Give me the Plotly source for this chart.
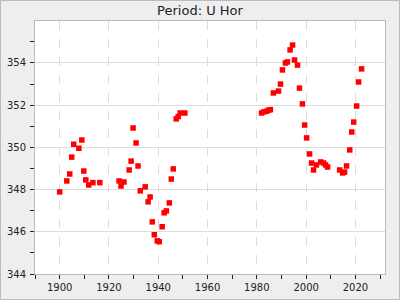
import plotly.graph_objects as go

years = [1900.0, 1902.9, 1904.1, 1904.9, 1905.7, 1907.8, 1909.0, 1909.8, 1910.6, 1911.8,
         1913.5, 1916.3, 1924.1, 1924.9, 1926.1, 1928.2, 1929.0, 1929.8, 1931.0, 1931.8,
         1932.7, 1934.7, 1935.9, 1936.7, 1937.6, 1938.4, 1939.6, 1940.4, 1941.6, 1942.4,
         1943.3, 1944.5, 1945.3, 1946.1, 1947.3, 1948.1, 1948.9, 1950.8,
         1981.9, 1982.8, 1983.9, 1984.7, 1985.5, 1986.7, 1988.8, 1989.6, 1990.4, 1991.6,
         1992.4, 1993.5, 1994.5, 1995.3, 1996.5, 1997.3, 1998.5, 1999.4, 2000.2, 2001.4,
         2002.2, 2003.0, 2004.2, 2005.9, 2007.1, 2007.9, 2008.7, 2013.6, 2014.8, 2015.6,
         2016.4, 2017.7, 2018.5, 2019.3, 2020.5, 2021.3, 2022.5]
period = [347.89, 348.41, 348.74, 349.54, 350.15, 349.96, 350.35, 348.88, 348.46, 348.22,
          348.33, 348.33, 348.41, 348.17, 348.36, 348.93, 349.35, 350.92, 350.21, 349.12,
          347.94, 348.13, 347.42, 347.65, 346.47, 345.86, 345.57, 345.53, 346.24, 346.90,
          346.99, 347.37, 348.50, 348.98, 351.35, 351.46, 351.63, 351.63,
          351.63, 351.68, 351.71, 351.76, 351.79, 352.58, 352.67, 353.00, 353.67, 354.00,
          354.05, 354.62, 354.85, 354.14, 353.90, 352.81, 352.06, 351.06, 350.45, 349.69,
          349.26, 348.93, 349.17, 349.31, 349.26, 349.17, 349.07, 348.93, 348.79, 348.83,
          349.12, 349.88, 350.73, 351.20, 351.96, 353.10, 353.72]

title_text = "Period: U Hor"

fig = go.Figure()
fig.add_trace(go.Scatter(
    x=years, y=period, mode="markers",
    marker=dict(symbol="square", size=5.5, color="#ff0000", line=dict(width=0)),
    showlegend=False,
))

font = dict(family="DejaVu Sans", size=10, color="#222222")

fig.update_layout(
    width=400, height=300,
    margin=dict(l=35, r=15, t=21, b=26),
    paper_bgcolor="#eeeeee",
    plot_bgcolor="#ffffff",
    font=font,
    title=dict(text=title_text, x=0.5, xanchor="center", y=0.965, yanchor="middle",
               font=dict(family="DejaVu Sans", size=13, color="#222222")),
    xaxis=dict(
        range=[1890, 2032], tick0=1900, dtick=20,
        showgrid=True, gridcolor="#dddddd", griddash="dash", gridwidth=1,
        zeroline=False, automargin=False,
        showline=True, linecolor="#bbbbbb", linewidth=1, mirror=True,
        ticks="outside", ticklen=4, tickcolor="#222222", tickwidth=1,
        minor=dict(dtick=10, tick0=1900, ticks="outside", ticklen=4, tickcolor="#222222", showgrid=False),
        tickfont=font,
    ),
    yaxis=dict(
        range=[344, 355.99], tick0=344, dtick=2,
        showgrid=True, gridcolor="#dddddd", gridwidth=1,
        zeroline=False, automargin=False,
        showline=True, linecolor="#bbbbbb", linewidth=1, mirror=True,
        ticks="outside", ticklen=4, tickcolor="#222222", tickwidth=1,
        minor=dict(dtick=1, tick0=344, ticks="outside", ticklen=4, tickcolor="#222222", showgrid=False),
        tickfont=font,
        ticklabelstandoff=2,
    ),
)

# outer figure border
fig.add_shape(type="rect", xref="paper", yref="paper",
              x0=(0.5 - 35) / 350, x1=(399.5 - 35) / 350,
              y0=(274 - 299.5) / 253, y1=(274 - 0.5) / 253,
              line=dict(color="#bbbbbb", width=1), fillcolor="rgba(0,0,0,0)", layer="below")

fig.write_html("out.html")
